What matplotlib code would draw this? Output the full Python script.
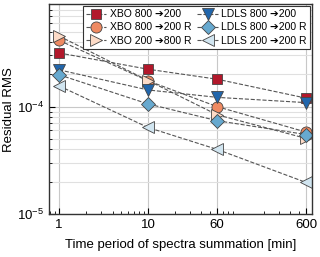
import numpy as np
import matplotlib.pyplot as plt
from matplotlib.ticker import FixedLocator, NullFormatter, LogLocator

plt.rcParams['font.family'] = ['Liberation Sans', 'DejaVu Sans']

periods = [1, 10, 60, 600]
labels = ["XBO 800 ➔200", "XBO 800 ➔200 R", "XBO 200 ➔800 R",
          "LDLS 800 ➔200", "LDLS 800 ➔200 R", "LDLS 200 ➔200 R"]
xbo_800_200 = [3.16e-4, 2.23e-4, 1.8e-4, 1.2e-4]
xbo_800_200_r = [4.14e-4, 1.74e-4, 1.0e-4, 5.8e-5]
xbo_200_800_r = [4.54e-4, 1.75e-4, 8.4e-5, 5.06e-5]
ldls_800_200 = [2.2e-4, 1.43e-4, 1.22e-4, 1.09e-4]
ldls_800_200_r = [1.98e-4, 1.06e-4, 7.4e-5, 5.5e-5]
ldls_200_200_r = [1.56e-4, 6.4e-5, 4.0e-5, 1.97e-5]

series = [xbo_800_200, xbo_800_200_r, xbo_200_800_r,
          ldls_800_200, ldls_800_200_r, ldls_200_200_r]
markers = ['s', 'o', '>', 'v', 'D', '<']
colors = ['#b2182b', '#ef8a62', '#fddbc7', '#2166ac', '#67a9cf', '#d1e5f0']
sizes = [7, 8, 8, 8, 7, 8]

fig = plt.figure(figsize=(3.2, 2.57), dpi=100)
ax = fig.add_axes([0.153, 0.167, 0.822, 0.817])

for vals, lab, m, c, s in zip(series, labels, markers, colors, sizes):
    ax.plot(periods, vals, linestyle='--', color='#555555', lw=0.8,
            marker=m, markersize=s, markerfacecolor=c,
            markeredgecolor='#444444', markeredgewidth=0.6, label=lab)

ax.set_xscale('log')
ax.set_yscale('log')
ax.set_xlim(0.77, 700)
ax.set_ylim(1e-5, 9e-4)

ax.xaxis.set_major_locator(FixedLocator(periods))
ax.set_xticklabels([str(p) for p in periods])
ax.xaxis.set_minor_locator(LogLocator(subs=np.arange(2, 10)))
ax.xaxis.set_minor_formatter(NullFormatter())

ax.grid(True, which='major', color='#c8c8c8', lw=0.8)
ax.grid(True, which='minor', axis='y', color='#e0e0e0', lw=0.8)
ax.tick_params(which='both', direction='in', labelsize=9.5)
ax.tick_params(which='major', length=4)
ax.tick_params(which='minor', length=2)
for sp in ax.spines.values():
    sp.set_color('#333333')
    sp.set_linewidth(1.0)

ax.set_xlabel("Time period of spectra summation [min]", fontsize=9.5, labelpad=6)
ax.set_ylabel("Residual RMS", fontsize=9.5)
ax.yaxis.set_label_coords(-0.13, 0.5)

leg = ax.legend(ncol=2, loc='upper right', fontsize=7.5, fancybox=False,
                edgecolor='#333333', framealpha=1, handlelength=2.0,
                handletextpad=0.3, columnspacing=0.6, labelspacing=0.3,
                borderpad=0.3, borderaxespad=0.2)
leg.get_frame().set_linewidth(0.8)

fig.savefig("out.png", dpi=100)
